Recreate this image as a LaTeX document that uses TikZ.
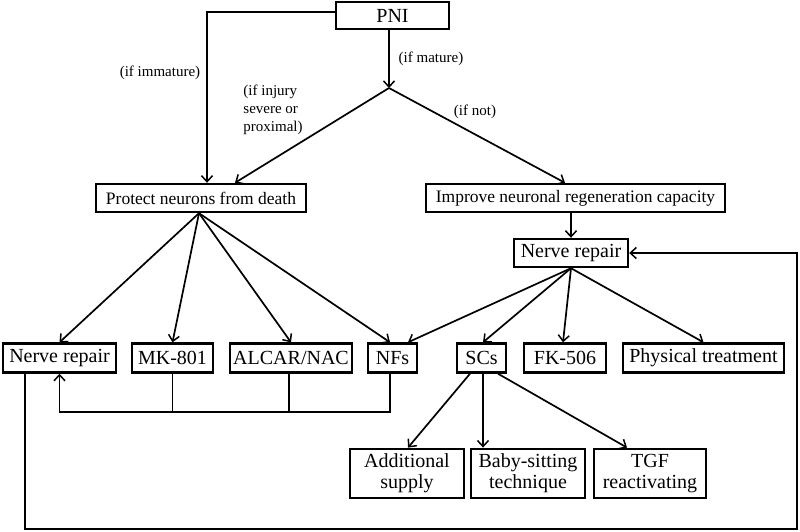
\documentclass[tikz,border=0pt]{standalone}
\usepackage{fontspec}
\setmainfont{Liberation Serif}
\usetikzlibrary{arrows.meta}
\begin{document}
\begin{tikzpicture}[x=1pt,y=-1pt,
  box/.style={draw,line width=2.4pt,inner sep=0pt,align=center,font=\fontsize{20}{21}\selectfont},
  midbox/.style={box,font=\fontsize{17.5}{20}\selectfont},
  lbl/.style={inner sep=0pt,font=\fontsize{15}{18}\selectfont},
  arr/.style={line width=1.7pt,-{Straight Barb[length=6pt,width=11pt,line width=1.5pt]}},
  ln/.style={line width=1.5pt},
  thin/.style={line width=1.3pt}]
\useasboundingbox (0,0) rectangle (800,531);
% nodes
\node[box,minimum width=113pt,minimum height=27pt] (pni) at (392.5,15.5) {PNI};
\node[midbox,minimum width=210pt,minimum height=28pt] (protect) at (201,198) {Protect neurons from death};
\node[midbox,minimum width=299pt,minimum height=28pt] (improve) at (575.5,198) {Improve neuronal regeneration capacity};
\node[box,minimum width=114pt,minimum height=28pt] (nr2) at (571,253) {Nerve repair};
\node[box,minimum width=113pt,minimum height=29pt] (nr1) at (59.5,358) {Nerve repair};
\node[box,minimum width=81pt,minimum height=29pt] (mk) at (172.5,358) {MK-801};
\node[box,minimum width=122pt,minimum height=29pt] (alcar) at (291,358) {ALCAR/NAC};
\node[box,minimum width=49pt,minimum height=29pt] (nfs) at (392.5,358) {NFs};
\node[box,minimum width=49pt,minimum height=29pt] (scs) at (481.5,358) {SCs};
\node[box,minimum width=82pt,minimum height=29pt] (fk) at (565,358) {FK-506};
\node[box,minimum width=161pt,minimum height=29pt] (phys) at (703.5,358) {Physical treatment};
\node[box,line width=2.8pt,minimum width=114pt,minimum height=49pt] (add) at (407,473.5) {Additional\\supply};
\node[box,line width=2.8pt,minimum width=114pt,minimum height=49pt] (baby) at (528,473.5) {Baby-sitting\\technique};
\node[box,line width=2.8pt,minimum width=112pt,minimum height=49pt] (tgf) at (650,473.5) {TGF\\reactivating};
% coordinates
\coordinate (j) at (389,88);
\coordinate (fb) at (0,412);
\coordinate (bl) at (25,529);
\coordinate (br) at (797,529);
% labels
\node[lbl] (limm) at (160,73) {(if immature)};
\node[lbl] (lmat) at (431,59) {(if mature)};
\node[lbl,align=left] (linj) at (273,110) {(if injury\\severe or\\proximal)};
\node[lbl] (lnot) at (475,112) {(if not)};
% connectors
\draw[arr] ([yshift=3.5pt]pni.west) -| ([xshift=6pt]protect.north);
\draw[arr] (j |- pni.south) -- (j);
\draw[arr] (j) -- ([xshift=34pt]protect.north);
\draw[arr] (j) -- ([xshift=-10.5pt]improve.north);
\draw[arr] (nr2 |- improve.south) -- (nr2.north);
% protect fan
\draw[arr] ([xshift=-2pt]protect.south) -- (nr1.north);
\draw[arr] ([xshift=-2pt]protect.south) -- (mk.north);
\draw[arr] ([xshift=-2pt]protect.south) -- (alcar.north);
\draw[arr] ([xshift=-2pt]protect.south) -- ([xshift=-2.5pt]nfs.north);
% nerve repair fan
\draw[arr] (nr2.south) -- ([xshift=15.5pt]nfs.north);
\draw[arr] (nr2.south) -- ([xshift=1.5pt]scs.north);
\draw[arr] (nr2.south) -- ([xshift=-2pt]fk.north);
\draw[arr] (nr2.south) -- (phys.north);
% feedback to nerve repair
\draw[ln] (mk.south) -- (mk.south |- fb);
\draw[ln] ([xshift=-2pt]alcar.south) -- ([xshift=-2pt]alcar.south |- fb);
\draw[arr,line width=1.5pt] ([xshift=-2.5pt]nfs.south) |- (nr1.south |- fb) -- (nr1.south);
% big loop
\draw[arr,line width=1.4pt] ([xshift=-34.5pt]nr1.south) -- (bl) -- (br) |- (nr2.east);
% SCs fan
\draw[arr] ([xshift=-11.5pt]scs.south) -- ([xshift=1pt]add.north);
\draw[arr] ([xshift=1.5pt]scs.south) -- ([xshift=-45pt]baby.north);
\draw[arr] ([xshift=16.5pt]scs.south) -- ([xshift=-23pt]tgf.north);
\end{tikzpicture}
\end{document}
